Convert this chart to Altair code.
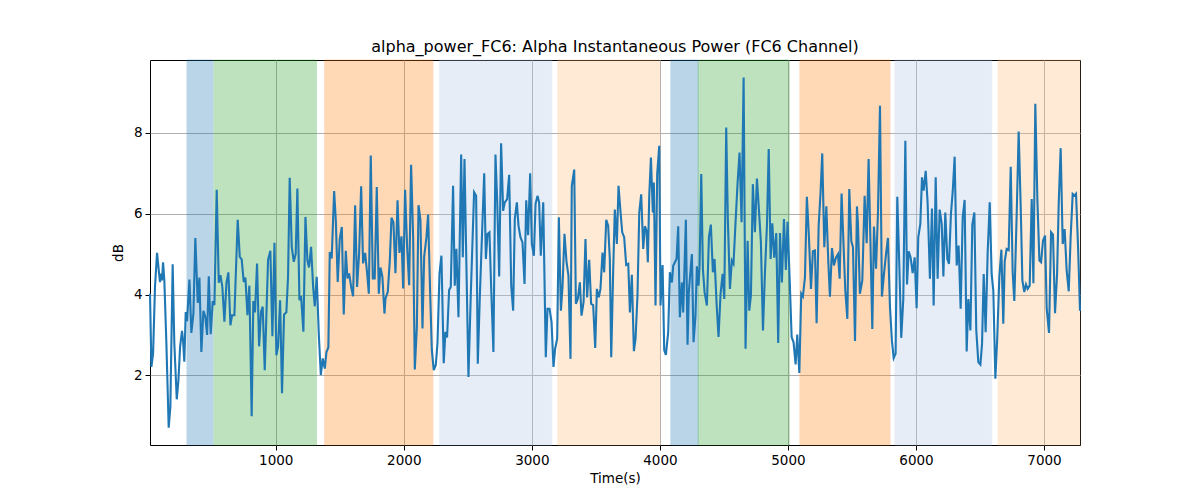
import altair as alt
import pandas as pd

# Time stamps (s) of the trace vertices
time_s = [
    18, 29, 42, 57, 73, 89, 96, 104, 112, 120, 130, 146, 164, 177, 195, 208, 227, 240, 253, 268,
    276, 286, 297, 307, 326, 341, 357, 372, 391, 404, 419, 435, 450, 464, 477, 492, 508, 521, 539, 555,
    568, 583, 599, 615, 630, 646, 659, 677, 703, 719, 734, 750, 763, 779, 794, 812, 825, 838, 854, 870,
    885, 898, 914,
    940, 958, 974, 990, 1005, 1018, 1034, 1049, 1065, 1083, 1096, 1109, 1125, 1141, 1156, 1169, 1185, 1198, 1216, 1232,
    1247, 1260, 1276, 1292, 1305, 1320, 1336, 1352, 1367, 1383, 1396, 1411, 1422, 1437, 1456, 1469, 1484, 1500, 1516, 1531,
    1547, 1560, 1573, 1589, 1604, 1620, 1635, 1651, 1667, 1682, 1698, 1714, 1727, 1742, 1758, 1773, 1789, 1805, 1818, 1833,
    1849,
    1857, 1875, 1891, 1904, 1919, 1935, 1951, 1966, 1982, 1995, 2010, 2026, 2042, 2057, 2073, 2086, 2102, 2115, 2130, 2146,
    2159, 2177, 2190, 2206, 2219, 2234, 2250, 2263, 2279, 2294, 2312, 2325, 2338, 2354,
    2367, 2385, 2398, 2411, 2427, 2448, 2461, 2474, 2490, 2505, 2523, 2549, 2565, 2578, 2594, 2628, 2641, 2654, 2669, 2682,
    2700, 2716, 2729, 2745, 2760, 2776, 2789, 2807, 2823, 2839, 2854, 2867, 2883, 2896, 2911, 2927, 2943, 2956, 2971, 2987,
    3000, 3016, 3029, 3044, 3057, 3070, 3089, 3109, 3122, 3138, 3154, 3169, 3182, 3198, 3211, 3227, 3240, 3255, 3271, 3286,
    3302, 3312, 3331, 3344, 3359, 3375, 3388, 3404, 3419, 3432, 3448, 3463, 3479, 3495, 3508, 3523, 3536, 3552, 3565, 3581,
    3596, 3609, 3620, 3635, 3648, 3664, 3677, 3693, 3706, 3721, 3737, 3753, 3766, 3781, 3797, 3810, 3825, 3839, 3854, 3870,
    3883, 3896, 3906, 3917, 3930, 3945, 3953, 3966, 3979, 3995, 4005, 4021, 4034, 4047, 4065, 4078, 4094, 4104, 4130, 4143,
    4156, 4172, 4182, 4203, 4216, 4226, 4242, 4250, 4263, 4278, 4289, 4302, 4310, 4323, 4336, 4349, 4367, 4383, 4398, 4414,
    4427, 4443, 4458, 4474, 4490, 4503, 4518, 4531, 4547, 4562, 4575, 4591, 4607, 4622, 4638, 4654, 4669, 4685, 4698, 4711,
    4726, 4742, 4758, 4773, 4789, 4805, 4820, 4836, 4850,
    4865, 4878, 4893, 4909, 4924, 4938, 4953, 4969, 4984, 4997, 5013, 5029, 5044, 5060, 5073, 5089, 5104, 5117, 5133, 5148,
    5164, 5180, 5195, 5211, 5224, 5240, 5255, 5268, 5284, 5300, 5315, 5328, 5344, 5359, 5375, 5391, 5404, 5419, 5435, 5448,
    5464, 5479, 5495, 5508, 5524, 5539,
    5547, 5562, 5581, 5599, 5615, 5630, 5643, 5659, 5672, 5688, 5703, 5719, 5734, 5750, 5766, 5781, 5797, 5812, 5826, 5841,
    5854, 5870, 5885, 5901, 5917, 5930, 5943, 5958, 5974, 5990, 6005, 6018, 6034, 6047, 6060, 6076, 6091, 6109, 6125, 6138,
    6154, 6169, 6185, 6201, 6214, 6229, 6245, 6258, 6273, 6287, 6302, 6318, 6333, 6349, 6365, 6380, 6396, 6409, 6425, 6440,
    6456,
    6471, 6487, 6503, 6516, 6529, 6544, 6560, 6576, 6591, 6604, 6620, 6635, 6651, 6667, 6682, 6693, 6708, 6724, 6740, 6755,
    6768, 6786, 6802, 6818, 6831, 6846, 6859, 6872, 6888, 6904, 6917, 6932, 6948, 6964, 6977, 6992, 7008, 7021, 7039, 7055,
    7070, 7086, 7102, 7115, 7130, 7146, 7161, 7177, 7193, 7208, 7224, 7240, 7250, 7266, 7281,
]

# Alpha power (dB) at those time stamps
power_db = [
    4.02, 2.21, 2.54, 4.19, 5.03, 4.52, 4.31, 4.52, 4.35, 4.80, 4.35, 2.79, 0.71, 1.23, 4.75, 2.79, 1.41, 1.88, 2.71, 3.10,
    2.87, 2.34, 3.57, 3.34, 4.37, 3.05, 3.53, 5.40, 3.79, 4.42, 2.58, 3.60, 3.45, 3.00, 4.45, 3.02, 3.84, 3.74, 6.59, 4.29,
    4.48, 4.19, 3.33, 4.29, 4.55, 3.24, 3.49, 3.49, 5.85, 4.93, 4.87, 4.31, 4.42, 3.49, 4.22, 0.99, 3.84, 3.56, 4.77, 2.72,
    3.57, 3.70, 2.13,
    4.86, 5.08, 2.97, 5.28, 2.50, 2.71, 3.86, 1.56, 3.51, 3.56, 4.44, 6.89, 5.18, 4.81, 5.01, 6.62, 3.86, 3.96, 3.08, 5.92,
    4.85, 4.67, 5.18, 4.19, 3.71, 4.44, 3.04, 2.01, 2.42, 2.17, 2.58, 2.69, 5.05, 4.89, 6.56, 5.84, 4.31, 5.38, 5.67, 3.51,
    5.08, 4.40, 4.52, 4.19, 3.96, 6.21, 4.19, 5.01, 6.68, 4.77, 5.03, 4.52, 4.02, 7.44, 4.40, 4.40, 6.66, 4.02, 4.67, 4.44,
    3.53,
    3.90, 4.07, 4.85, 5.90, 5.79, 4.53, 6.33, 5.03, 5.44, 4.15, 6.59, 5.18, 4.23, 7.21, 5.42, 2.15, 3.20, 6.21, 5.84, 3.16,
    4.93, 5.42, 5.98, 4.02, 2.63, 2.13, 2.26, 2.79, 4.52, 4.96, 2.30, 3.08, 2.94, 4.11,
    4.19, 6.69, 4.22, 5.13, 3.44, 7.46, 4.92, 7.35, 4.55, 1.96, 3.97, 6.53, 6.44, 2.29, 3.97, 7.00, 4.88, 5.50, 5.54, 4.22,
    2.58, 7.46, 6.36, 4.45, 7.74, 6.07, 6.28, 6.36, 6.96, 4.22, 3.60, 5.87, 6.28, 5.70, 5.42, 5.29, 4.26, 6.33, 5.47, 7.00,
    5.25, 4.96, 6.24, 6.44, 6.28, 4.96, 6.28, 2.45, 3.65, 3.65, 3.32, 2.21, 2.66, 2.91, 5.91, 3.60, 4.22, 5.50, 4.80, 4.47,
    2.41, 6.68, 7.09, 3.77, 3.89, 4.30, 3.48, 3.81, 5.37, 3.93, 4.86, 3.77, 3.74, 2.68, 4.14, 3.93, 4.14, 5.04, 4.55, 5.85,
    5.70, 4.88, 2.45, 4.55, 6.10, 5.25, 6.69, 6.03, 5.54, 5.42, 4.73, 4.76, 3.56, 4.49, 2.60, 2.91, 3.97, 6.03, 6.48, 5.13,
    5.69, 5.58, 4.80, 6.44, 7.39, 6.03, 6.77, 3.73, 6.98, 7.68, 3.73, 4.73, 2.62, 2.51, 3.07, 4.55, 4.30, 4.71, 4.88, 5.69,
    3.44, 4.30, 3.56, 5.85, 2.76, 4.06, 4.71, 5.00, 2.82, 3.48, 4.70, 4.22, 4.70, 6.98, 4.63, 4.06, 3.73, 5.42, 5.73, 4.55,
    4.88, 3.77, 2.95, 4.02, 4.51, 3.89, 8.13, 5.83, 4.14, 4.84, 4.76, 5.79, 6.77, 7.51, 5.79, 9.37, 2.66, 5.33, 3.60, 3.97,
    6.73, 5.54, 6.87, 6.12, 5.29, 3.11, 4.51, 5.70, 7.60,
    4.88, 5.76, 4.91, 5.52, 2.80, 5.52, 4.30, 5.87, 4.61, 5.80, 4.43, 2.95, 2.82, 2.27, 3.01, 2.06, 4.02, 3.95, 4.43, 6.42,
    5.42, 4.14, 5.07, 5.09, 3.29, 5.70, 6.53, 7.49, 5.17, 6.18, 4.84, 3.95, 5.15, 4.72, 4.91, 5.00, 4.39, 6.50, 5.17, 4.10,
    3.40, 6.61, 5.32, 5.17, 2.85, 6.18,
    5.75, 4.02, 4.35, 6.44, 5.27, 7.35, 5.50, 3.15, 5.68, 4.64, 5.99, 8.67, 3.95, 4.51, 5.00, 5.40, 3.69, 2.86, 2.43, 2.54,
    6.42, 4.72, 2.93, 3.89, 7.80, 4.25, 5.07, 4.92, 4.53, 4.92, 3.66, 5.42, 5.75, 6.90, 6.57, 7.06, 6.26, 4.39, 6.13, 3.73,
    6.90, 4.39, 6.10, 5.75, 4.45, 6.03, 4.88, 4.76, 5.99, 6.55, 7.41, 4.72, 5.21, 3.65, 5.91, 6.34, 2.59, 3.89, 3.11, 5.73,
    6.03,
    3.11, 2.33, 2.27, 2.78, 4.51, 3.07, 5.05, 6.28, 4.51, 4.10, 1.92, 2.95, 4.43, 5.11, 3.28, 4.82, 5.13, 5.10, 7.16, 4.55,
    3.84, 5.91, 8.03, 6.16, 4.35, 4.06, 4.25, 4.14, 4.22, 6.36, 4.28, 8.72, 6.36, 4.84, 4.80, 5.33, 5.46, 3.65, 3.05, 5.54,
    5.48, 3.54, 4.51, 6.28, 7.62, 5.25, 5.62, 4.59, 4.08, 5.42, 6.49, 6.45, 6.49, 5.17, 3.60,
]

# Shaded phase intervals
span_start = [307, 518, 1383, 2281, 3203, 4086, 4299, 5094, 5836, 6641]
span_end = [510, 1318, 2227, 3156, 4000, 4299, 5010, 5797, 6591, 7281]
span_color = ["#1f77b4", "#2ca02c", "#ff7f0e", "#aec7e8", "#ffbb78",
              "#1f77b4", "#2ca02c", "#ff7f0e", "#aec7e8", "#ffbb78"]

x_ticks = [1000, 2000, 3000, 4000, 5000, 6000, 7000]
y_ticks = [2, 4, 6, 8]

line_df = pd.DataFrame({"t": time_s, "db": power_db})
span_df = pd.DataFrame({"start": span_start, "end": span_end, "color": span_color})

FONT = "DejaVu Sans"

x_scale = alt.Scale(domain=[18, 7281], nice=False, zero=False)
y_scale = alt.Scale(domain=[0.28, 9.8], nice=False, zero=False)

spans = alt.Chart(span_df).mark_rect(opacity=0.3, strokeWidth=1).encode(
    x=alt.X("start:Q", scale=x_scale,
            axis=alt.Axis(values=x_ticks, title="Time(s)", format="d")),
    x2="end:Q",
    color=alt.Color("color:N", scale=None),
    stroke=alt.Color("color:N", scale=None),
)

line = alt.Chart(line_df).mark_line(color="#1f77b4", strokeWidth=2.1).encode(
    x=alt.X("t:Q", scale=x_scale),
    y=alt.Y("db:Q", scale=y_scale,
            axis=alt.Axis(values=y_ticks, title="dB", format="d")),
)

chart = alt.layer(spans, line).properties(
    width=930,
    height=385,
    title=alt.TitleParams(
        "alpha_power_FC6: Alpha Instantaneous Power (FC6 Channel)",
        font=FONT, fontSize=16, fontWeight="normal", color="black", offset=5,
    ),
    padding={"left": 142, "top": 52, "right": 100, "bottom": 46},
    autosize=alt.AutoSizeParams(type="none"),
).configure_view(
    stroke="black", strokeWidth=1
).configure_axis(
    grid=True,
    gridColor="#b0b0b0",
    gridWidth=1,
    domain=False,
    tickColor="black",
    tickSize=5,
    tickWidth=1,
    labelFont=FONT,
    labelFontSize=13.5,
    labelColor="black",
    labelPadding=3,
    titleFont=FONT,
    titleFontSize=13.5,
    titleFontWeight="normal",
    titleColor="black",
).configure_axisX(
    titlePadding=5,
).configure_axisY(
    titlePadding=8,
)

chart.save("out.html", embed_options={"renderer": "svg", "actions": False})
